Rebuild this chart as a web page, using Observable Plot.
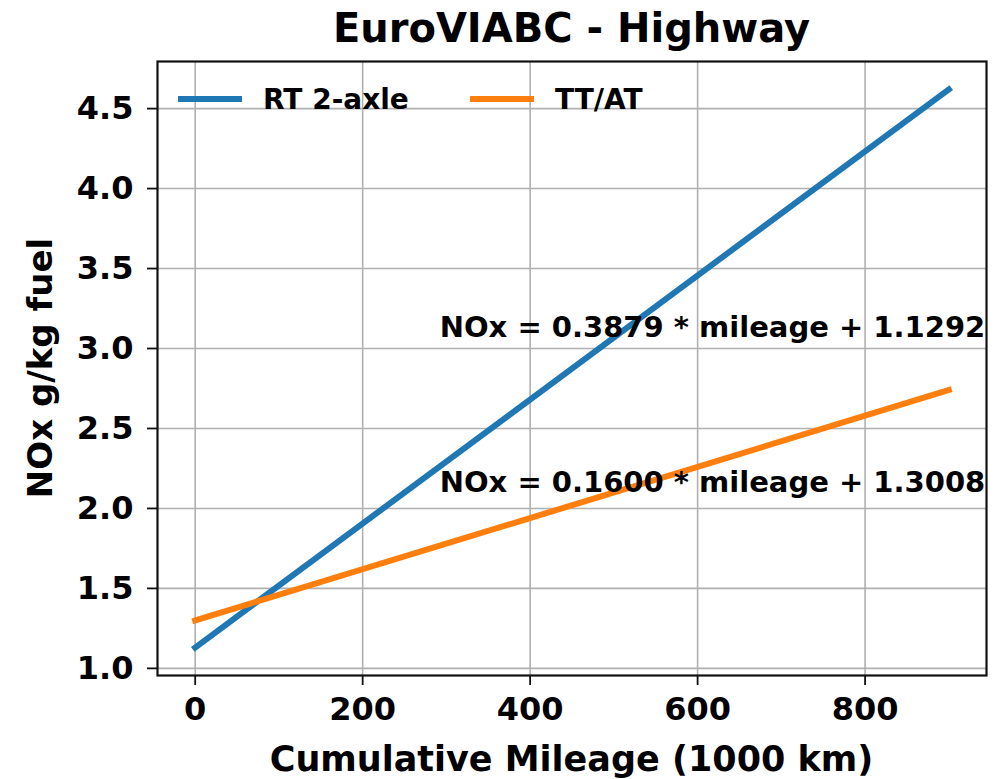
<!DOCTYPE html>
<html>
<head>
<meta charset="utf-8">
<script src="https://cdn.jsdelivr.net/npm/d3@7"></script>
<script src="https://cdn.jsdelivr.net/npm/@observablehq/plot@0.6"></script>
<style>
  html, body { margin: 0; padding: 0; background: #fff; }
  #chart svg { display: block; }
</style>
</head>
<body>
<div id="chart"></div>
<script>
// ---- Data ----
const mileage = [0, 900];                 // Cumulative Mileage (1000 km)
const rtValues = [1.13, 4.62];            // RT 2-axle, NOx g/kg fuel
const ttValues = [1.30, 2.74];            // TT/AT, NOx g/kg fuel
const seriesNames = ["RT 2-axle", "TT/AT"];
const seriesColors = ["#1f77b4", "#ff7f0e"];
const xTicks = [0, 200, 400, 600, 800];
const yTicks = [1.0, 1.5, 2.0, 2.5, 3.0, 3.5, 4.0, 4.5];
const equations = ["NOx = 0.3879 * mileage + 1.1292", "NOx = 0.1600 * mileage + 1.3008"];
const eqX = [292, 292];
const eqY = [3.07, 2.10];
const titleText = "EuroVIABC - Highway";
const xLabel = "Cumulative Mileage (1000 km)";
const yLabel = "NOx g/kg fuel";

// ---- Build tables ----
const rows = [];
mileage.forEach((m, i) => rows.push({series: seriesNames[0], x: m, y: rtValues[i]}));
mileage.forEach((m, i) => rows.push({series: seriesNames[1], x: m, y: ttValues[i]}));
const eqRows = equations.map((t, i) => ({text: t, x: eqX[i], y: eqY[i]}));

// matplotlib-like 5% margins
const xExt = d3.extent(rows, d => d.x);
const yExt = d3.extent(rows, d => d.y);
const xPad = (xExt[1] - xExt[0]) * 0.05;
const yPad = (yExt[1] - yExt[0]) * 0.05;

const W = 997, H = 779;
const mL = 157, mR = 11, mT = 61, mB = 104;
const FONT = "'DejaVu Sans', sans-serif";

const chart = Plot.plot({
  width: W,
  height: H,
  marginLeft: mL,
  marginRight: mR,
  marginTop: mT,
  marginBottom: mB,
  style: {fontFamily: FONT, background: "#fff", color: "#000"},
  x: {domain: [xExt[0] - xPad, xExt[1] + xPad]},
  y: {domain: [yExt[0] - yPad, yExt[1] + yPad]},
  color: {domain: seriesNames, range: seriesColors},
  marks: [
    Plot.gridX(xTicks, {stroke: "#b0b0b0", strokeOpacity: 1, strokeWidth: 1.6}),
    Plot.gridY(yTicks, {stroke: "#b0b0b0", strokeOpacity: 1, strokeWidth: 1.6}),
    Plot.line(rows, {x: "x", y: "y", z: "series", stroke: "series", strokeWidth: 6, strokeLinecap: "square"}),
    Plot.text(eqRows, {x: "x", y: "y", text: "text", textAnchor: "start", lineAnchor: "bottom",
      fontSize: 29, fontWeight: "bold", fill: "#000"}),
    Plot.frame({stroke: "#111", strokeWidth: 2.2}),
    Plot.axisX(xTicks, {tickSize: 10, tickPadding: 12, fontSize: 32, fontWeight: "bold",
      label: null, stroke: "#111", strokeWidth: 1.8, fill: "#000"}),
    Plot.axisY(yTicks, {tickSize: 10, tickPadding: 14, fontSize: 32, fontWeight: "bold",
      tickFormat: d3.format(".1f"), label: null, stroke: "#111", strokeWidth: 1.8, fill: "#000"})
  ]
});

document.getElementById("chart").appendChild(chart);

// ---- Title, axis labels, legend (text/annotation layers) ----
const svg = d3.select(chart);
const cx = mL + (W - mL - mR) / 2;
const cy = mT + (H - mT - mB) / 2;

svg.append("text")
  .attr("x", cx).attr("y", 42)
  .attr("text-anchor", "middle")
  .style("font-family", FONT).style("font-weight", "bold").style("font-size", "40px")
  .attr("fill", "#000")
  .text(titleText);

svg.append("text")
  .attr("x", cx).attr("y", 771)
  .attr("text-anchor", "middle")
  .style("font-family", FONT).style("font-weight", "bold").style("font-size", "35px")
  .attr("fill", "#000")
  .text(xLabel);

svg.append("text")
  .attr("transform", `translate(52,${cy}) rotate(-90)`)
  .attr("text-anchor", "middle")
  .style("font-family", FONT).style("font-weight", "bold").style("font-size", "34px")
  .attr("fill", "#000")
  .text(yLabel);

// Legend
const legendX = [178, 470];
const legendY = 99;
seriesNames.forEach((name, i) => {
  const g = svg.append("g");
  g.append("line")
    .attr("x1", legendX[i]).attr("x2", legendX[i] + 64)
    .attr("y1", legendY).attr("y2", legendY)
    .attr("stroke", seriesColors[i]).attr("stroke-width", 6);
  g.append("text")
    .attr("x", legendX[i] + 85).attr("y", legendY)
    .attr("dy", "0.35em")
    .attr("text-anchor", "start")
    .style("font-family", FONT).style("font-weight", "bold").style("font-size", "28px")
    .attr("fill", "#000")
    .text(name);
});
</script>
</body>
</html>
